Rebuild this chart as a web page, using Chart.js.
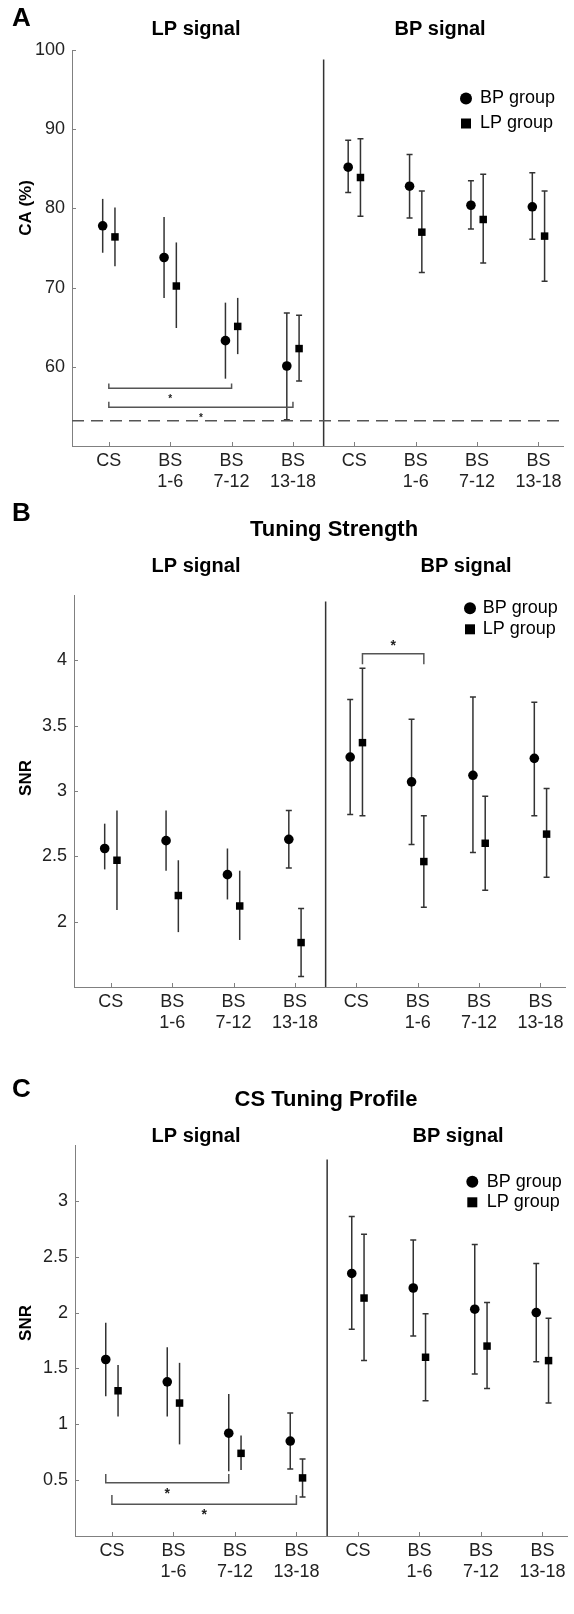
<!DOCTYPE html>
<html lang="en">
<head>
<meta charset="UTF-8">
<title>CA and SNR by signal type</title>
<script src="https://cdn.jsdelivr.net/npm/chart.js@4.4.1/dist/chart.umd.min.js"></script>
<style>
  body { margin: 0; background: #fff; width: 574px; height: 1614px; position: relative; }
  canvas { position: absolute; left: 0; }
</style>
</head>
<body>
<canvas id="panelA" width="574" height="495" style="top:0"></canvas>
<canvas id="panelB" width="574" height="555" style="top:495px"></canvas>
<canvas id="panelC" width="574" height="564" style="top:1050px"></canvas>
<script>
// x categories (first four: LP signal, last four: BP signal)
const xTickVals = [0, 1, 2, 3, 4, 5, 6, 7];
const xLabels = ['CS', ['BS', '1-6'], ['BS', '7-12'], ['BS', '13-18'],
                 'CS', ['BS', '1-6'], ['BS', '7-12'], ['BS', '13-18']];

// A: CA (%)
const caTicks = [60, 70, 80, 90, 100];
const caBpMean = [77.8, 73.8, 63.3, 60.1, 85.2, 82.8, 80.4, 80.2];
const caBpLow  = [74.4, 68.7, 58.5, 53.3, 82.0, 78.8, 77.4, 76.1];
const caBpHigh = [81.2, 78.9, 68.1, 66.8, 88.6, 86.8, 83.5, 84.5];
const caLpMean = [76.4, 70.2, 65.1, 62.3, 83.9, 77.0, 78.6, 76.5];
const caLpLow  = [72.7, 64.9, 61.6, 58.2, 79.0, 71.9, 73.1, 70.8];
const caLpHigh = [80.1, 75.7, 68.7, 66.5, 88.8, 82.2, 84.3, 82.2];
const caChance = 53.2;
const caBrackets = [{ from: 0, to: 2, y: 57.3, tip: 57.9 }, { from: 0, to: 3, y: 54.9, tip: 55.6 }];

// B: Tuning Strength (SNR)
const strTicks = [2, 2.5, 3, 3.5, 4];
const strBpMean = [2.56, 2.62, 2.36, 2.63, 3.26, 3.07, 3.12, 3.25];
const strBpLow  = [2.40, 2.39, 2.17, 2.41, 2.82, 2.59, 2.53, 2.81];
const strBpHigh = [2.75, 2.85, 2.56, 2.85, 3.70, 3.55, 3.72, 3.68];
const strLpMean = [2.47, 2.20, 2.12, 1.84, 3.37, 2.46, 2.60, 2.67];
const strLpLow  = [2.09, 1.92, 1.86, 1.58, 2.81, 2.11, 2.24, 2.34];
const strLpHigh = [2.85, 2.47, 2.39, 2.10, 3.94, 2.81, 2.96, 3.02];
const strBrackets = [{ from: 4.1, to: 5.1, y: 4.05, tip: 3.97 }];

// C: CS Tuning Profile (SNR)
const proTicks = [0.5, 1, 1.5, 2, 2.5, 3];
const proBpMean = [1.58, 1.38, 0.92, 0.85, 2.35, 2.22, 2.03, 2.00];
const proBpLow  = [1.25, 1.07, 0.58, 0.60, 1.85, 1.79, 1.45, 1.56];
const proBpHigh = [1.91, 1.69, 1.27, 1.10, 2.86, 2.65, 2.61, 2.44];
const proLpMean = [1.30, 1.19, 0.74, 0.52, 2.13, 1.60, 1.70, 1.57];
const proLpLow  = [1.07, 0.82, 0.59, 0.35, 1.57, 1.21, 1.32, 1.19];
const proLpHigh = [1.53, 1.55, 0.90, 0.69, 2.70, 1.99, 2.09, 1.95];
const proBrackets = [{ from: -0.1, to: 1.9, y: 0.476, tip: 0.554 }, { from: 0, to: 3, y: 0.285, tip: 0.366 }];

const FONT = "'Liberation Sans', Arial, sans-serif";
const AXIS = '#808080';
const BAR = '#333';

function decor(cfg) {
  return {
    id: 'decor',
    beforeDatasetsDraw(chart) {
      const ctx = chart.ctx, xs = chart.scales.x, ys = chart.scales.y, a = chart.chartArea;
      const X = v => xs.getPixelForValue(v), Y = v => ys.getPixelForValue(v);
      ctx.save();
      // ticks inside the axes
      ctx.strokeStyle = AXIS; ctx.lineWidth = 1;
      ctx.beginPath();
      xTickVals.forEach(v => { const p = Math.round(X(v)) + 0.5; ctx.moveTo(p, a.bottom); ctx.lineTo(p, a.bottom - 4); });
      cfg.yTicks.forEach(v => { const p = Math.round(Y(v)) + 0.5; ctx.moveTo(a.left, p); ctx.lineTo(a.left + 4, p); });
      ctx.stroke();
      // divider between LP and BP signal
      ctx.strokeStyle = '#333'; ctx.lineWidth = 1.5;
      ctx.beginPath();
      ctx.moveTo(X(3.5), Y(cfg.dividerTop)); ctx.lineTo(X(3.5), a.bottom);
      ctx.stroke();
      // error bars
      ctx.strokeStyle = BAR; ctx.lineWidth = 1.5;
      cfg.groups.forEach(g => {
        g.low.forEach((lo, i) => {
          const px = X(i + g.off), y1 = Y(lo), y2 = Y(g.high[i]);
          ctx.beginPath();
          ctx.moveTo(px, y1); ctx.lineTo(px, y2);
          if (i >= 3) {
            ctx.moveTo(px - 3, y1); ctx.lineTo(px + 3, y1);
            ctx.moveTo(px - 3, y2); ctx.lineTo(px + 3, y2);
          }
          ctx.stroke();
        });
      });
      // significance brackets
      ctx.strokeStyle = '#555'; ctx.fillStyle = '#222';
      ctx.font = 'bold ' + cfg.starSize + 'px ' + FONT;
      ctx.textAlign = 'center'; ctx.textBaseline = 'middle';
      cfg.brackets.forEach(b => {
        const x1 = X(b.from), x2 = X(b.to), yl = Y(b.y), yt = Y(b.tip);
        ctx.beginPath();
        ctx.moveTo(x1, yt); ctx.lineTo(x1, yl); ctx.lineTo(x2, yl); ctx.lineTo(x2, yt);
        ctx.stroke();
        const dir = Math.sign(yt - yl);
        ctx.fillText('*', (x1 + x2) / 2, yl - dir * 8 + (dir > 0 ? 0 : 3));
      });
      ctx.restore();
    },
    afterDraw(chart) {
      const ctx = chart.ctx;
      ctx.save();
      ctx.fillStyle = '#000';
      ctx.textBaseline = 'middle';
      ctx.textAlign = 'left';
      ctx.font = 'bold 26px ' + FONT;
      ctx.fillText(cfg.letter, 12, cfg.letterY);
      ctx.textAlign = 'center';
      if (cfg.title) {
        ctx.font = 'bold 22px ' + FONT;
        ctx.fillText(cfg.title, cfg.titleX, cfg.titleY);
      }
      ctx.font = 'bold 20px ' + FONT;
      ctx.fillText('LP signal', 196, cfg.subY);
      ctx.fillText('BP signal', cfg.subRightX, cfg.subY);
      // y axis title
      ctx.save();
      ctx.translate(26, cfg.yLabelY);
      ctx.rotate(-Math.PI / 2);
      ctx.font = 'bold 17px ' + FONT;
      ctx.fillText(cfg.yLabel, 0, 0);
      ctx.restore();
      // legend
      const L = cfg.legend;
      ctx.beginPath();
      ctx.arc(L.x, L.y, 6, 0, Math.PI * 2);
      ctx.fill();
      ctx.fillRect(L.x - 5, L.y + L.dy - 5, 10, 10);
      ctx.textAlign = 'left';
      ctx.font = '18px ' + FONT;
      ctx.fillText('BP group', L.tx, L.y);
      ctx.fillText('LP group', L.tx, L.y + L.dy);
      ctx.restore();
    }
  };
}

function makePanel(id, cfg) {
  const datasets = [
    {
      label: 'BP group',
      data: cfg.groups[0].mean.map((v, i) => ({ x: i + cfg.groups[0].off, y: v })),
      pointStyle: 'circle', pointRadius: 4.8,
      backgroundColor: '#000', borderColor: '#000', borderWidth: 0
    },
    {
      label: 'LP group',
      data: cfg.groups[1].mean.map((v, i) => ({ x: i + cfg.groups[1].off, y: v })),
      pointStyle: 'rect', pointRadius: 5.3,
      backgroundColor: '#000', borderColor: '#000', borderWidth: 0
    }
  ];
  if (cfg.chance !== undefined) {
    datasets.unshift({
      label: 'chance',
      data: [{ x: -0.6, y: cfg.chance }, { x: 7.4, y: cfg.chance }],
      showLine: true, pointRadius: 0,
      borderColor: '#555', borderWidth: 1.5, borderDash: [12, 7]
    });
  }
  new Chart(document.getElementById(id), {
    type: 'scatter',
    data: { datasets },
    options: {
      responsive: false,
      animation: false,
      devicePixelRatio: 1,
      layout: { padding: { top: cfg.top, right: cfg.right, left: 0, bottom: 0 } },
      plugins: { legend: { display: false }, tooltip: { enabled: false } },
      scales: {
        x: {
          type: 'linear', min: -0.6, max: 7.4,
          afterBuildTicks: s => { s.ticks = xTickVals.map(v => ({ value: v })); },
          afterFit: s => { s.height = cfg.xAxisHeight; s.paddingLeft = 0; s.paddingRight = 0; },
          ticks: {
            autoSkip: false, maxRotation: 0, padding: 4,
            color: '#222', font: { family: FONT, size: 18, lineHeight: 1.2 },
            callback: (v, i) => xLabels[i]
          },
          grid: { display: true, drawOnChartArea: false, drawTicks: false },
          border: { color: AXIS, width: 1 }
        },
        y: {
          min: cfg.yMin, max: cfg.yMax,
          afterBuildTicks: s => { s.ticks = cfg.yTicks.map(v => ({ value: v })); },
          afterFit: s => { s.width = cfg.yAxisWidth; s.paddingTop = 0; s.paddingBottom = 0; },
          ticks: {
            padding: 7, color: '#222', font: { family: FONT, size: 18 },
            callback: v => String(v)
          },
          grid: { display: true, drawOnChartArea: false, drawTicks: false },
          border: { color: AXIS, width: 1 }
        }
      }
    },
    plugins: [decor(cfg)]
  });
}

makePanel('panelA', {
  letter: 'A', letterY: 19, subY: 29, subRightX: 440,
  yLabel: 'CA (%)', yLabelY: 208,
  top: 50, right: 11, yAxisWidth: 72, xAxisHeight: 49,
  yMin: 50, yMax: 100, yTicks: caTicks, dividerTop: 98.8,
  chance: caChance, brackets: caBrackets, starSize: 10,
  legend: { x: 466, y: 98.5, dy: 25, tx: 480 },
  groups: [
    { mean: caBpMean, low: caBpLow, high: caBpHigh, off: -0.1 },
    { mean: caLpMean, low: caLpLow, high: caLpHigh, off: 0.1 }
  ]
});

makePanel('panelB', {
  letter: 'B', letterY: 19, title: 'Tuning Strength', titleX: 334, titleY: 35,
  subY: 71, subRightX: 466,
  yLabel: 'SNR', yLabelY: 283,
  top: 100, right: 9, yAxisWidth: 74, xAxisHeight: 63,
  yMin: 1.5, yMax: 4.5, yTicks: strTicks, dividerTop: 4.45,
  brackets: strBrackets, starSize: 14,
  legend: { x: 470, y: 113.3, dy: 21, tx: 482.7 },
  groups: [
    { mean: strBpMean, low: strBpLow, high: strBpHigh, off: -0.1 },
    { mean: strLpMean, low: strLpLow, high: strLpHigh, off: 0.1 }
  ]
});

makePanel('panelC', {
  letter: 'C', letterY: 39.5, title: 'CS Tuning Profile', titleX: 326, titleY: 50,
  subY: 86, subRightX: 458,
  yLabel: 'SNR', yLabelY: 273,
  top: 95, right: 7, yAxisWidth: 75, xAxisHeight: 78,
  yMin: 0, yMax: 3.5, yTicks: proTicks, dividerTop: 3.37,
  brackets: proBrackets, starSize: 14,
  legend: { x: 472.3, y: 131.7, dy: 20.6, tx: 486.7 },
  groups: [
    { mean: proBpMean, low: proBpLow, high: proBpHigh, off: -0.1 },
    { mean: proLpMean, low: proLpLow, high: proLpHigh, off: 0.1 }
  ]
});
</script>
</body>
</html>
